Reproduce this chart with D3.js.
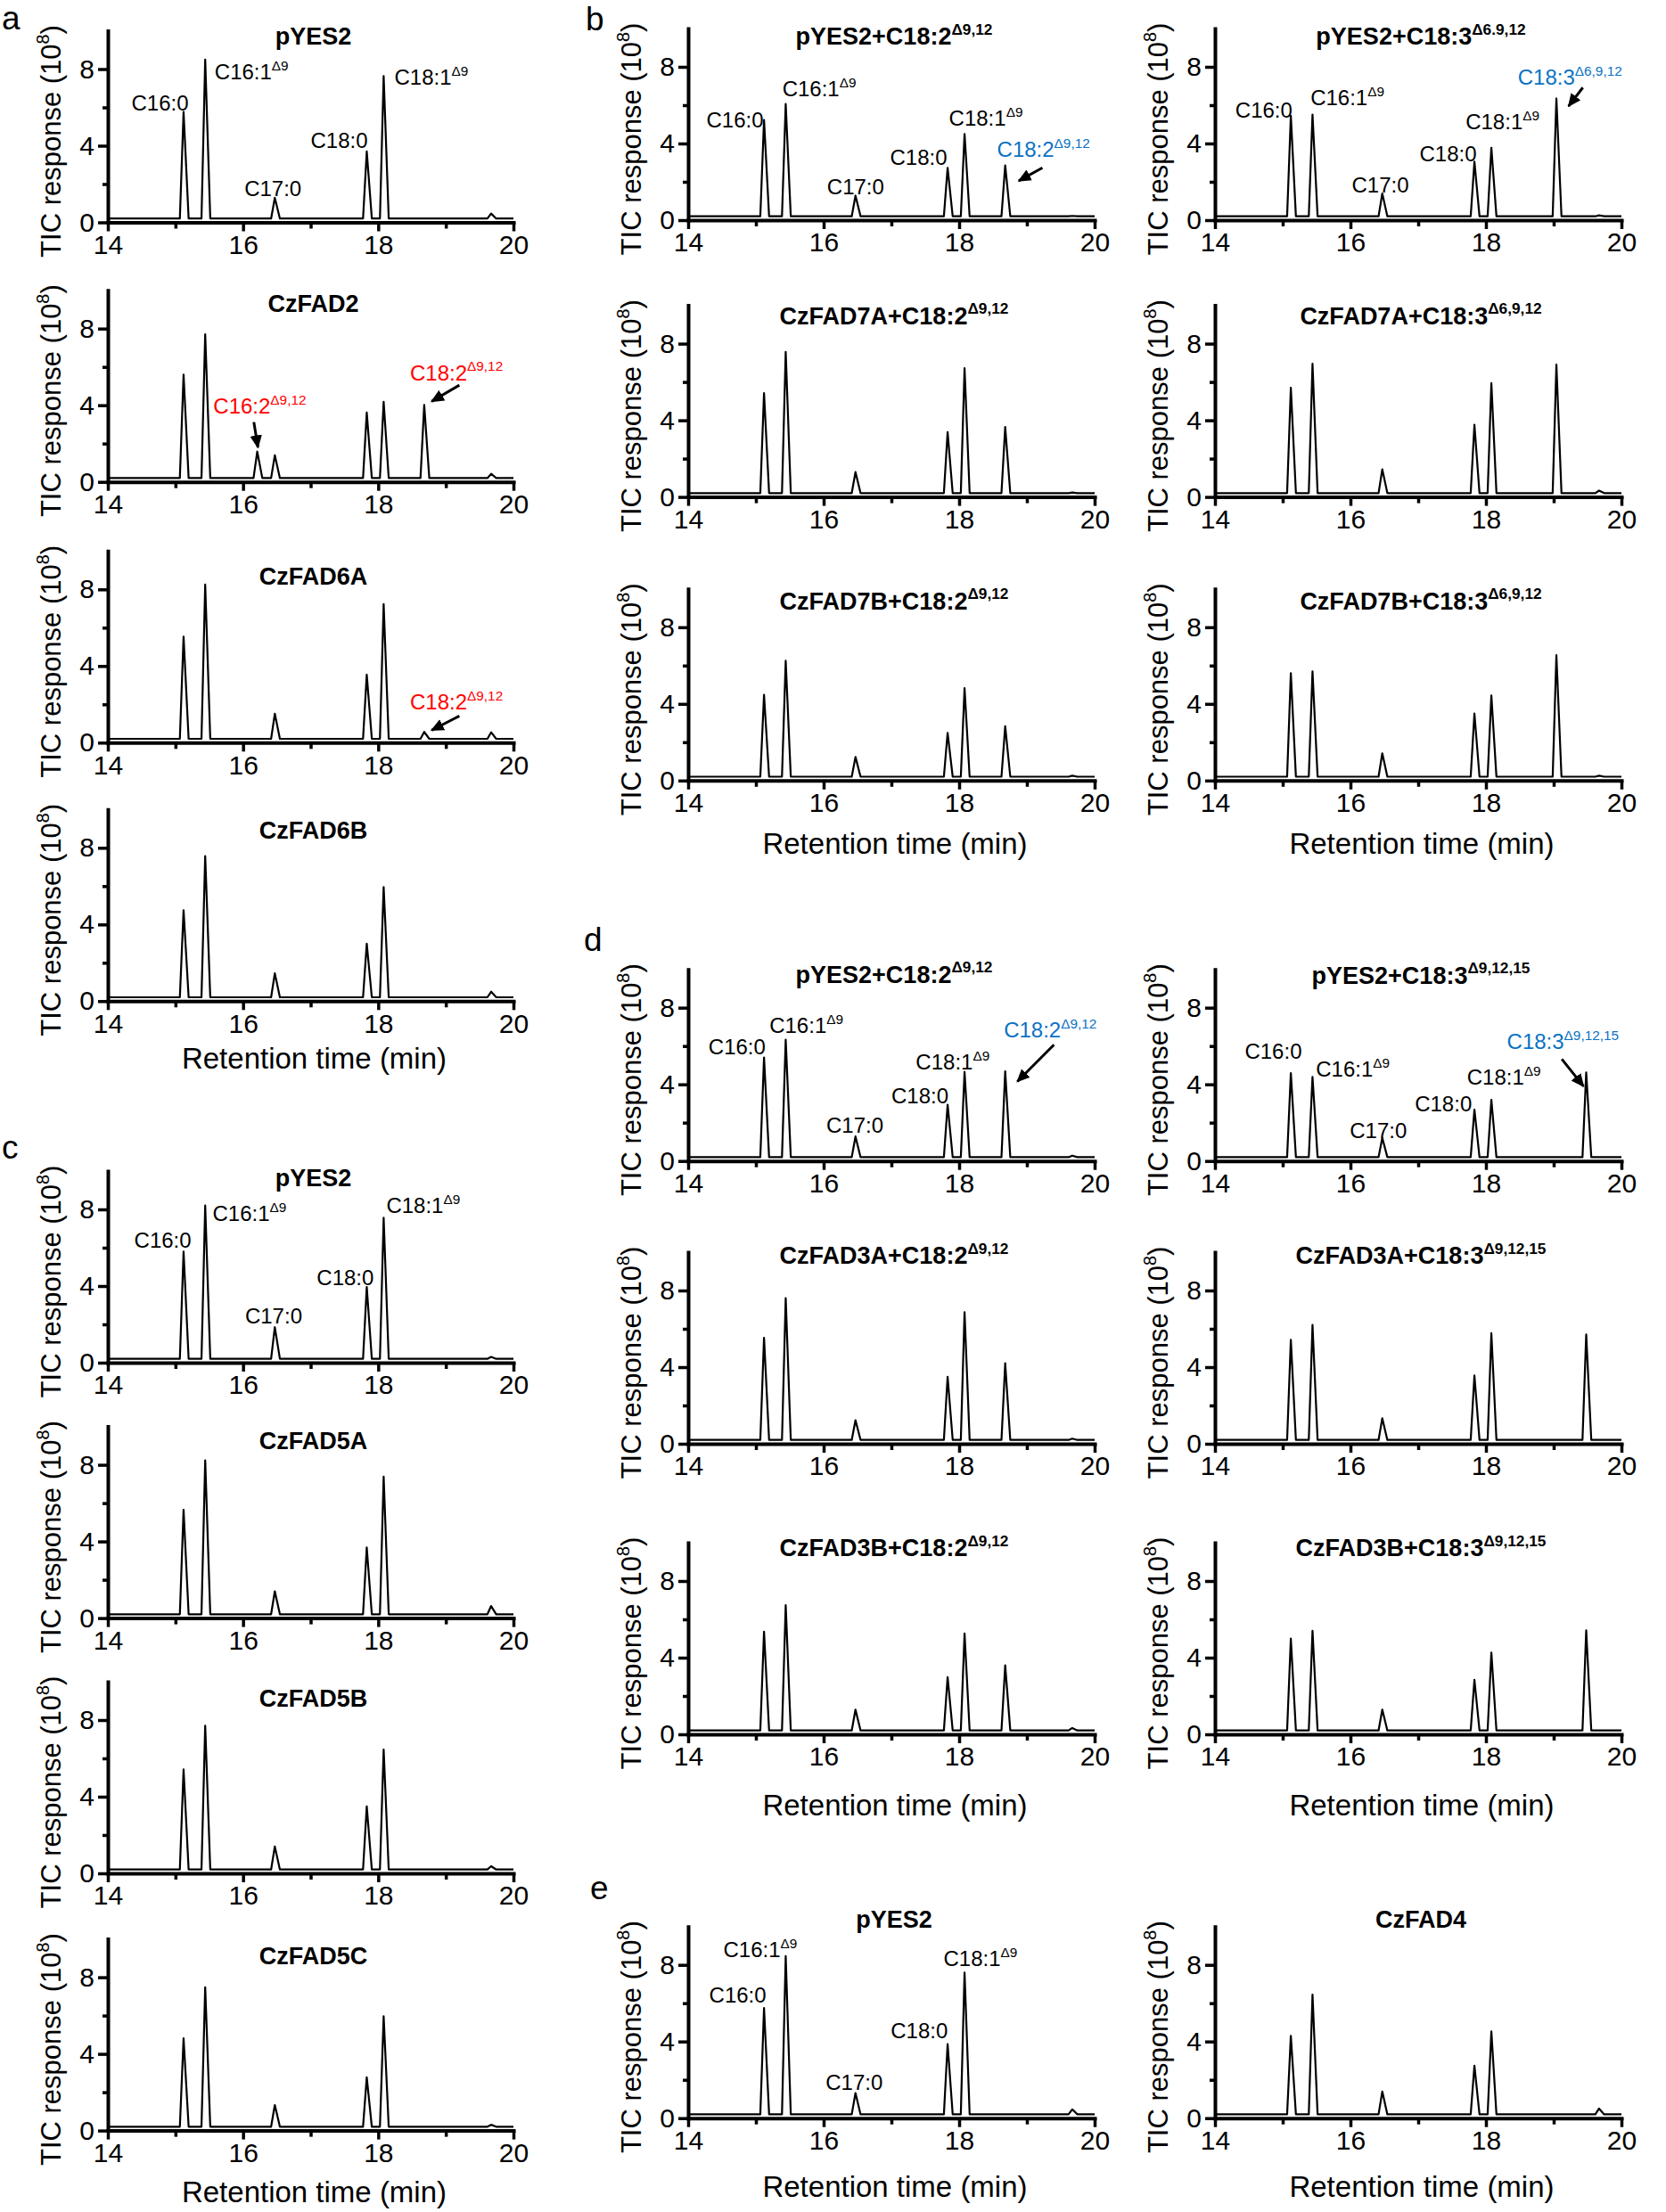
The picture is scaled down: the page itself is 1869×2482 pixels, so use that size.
<!DOCTYPE html>
<html>
<head>
<meta charset="utf-8">
<script src="https://cdn.jsdelivr.net/npm/d3@7"></script>
<style>
  body { margin: 0; background: #fff; }
</style>
</head>
<body>
<script>
// Axis ticks (retention time in min, TIC response in 10^8)
var xTicks = [14, 16, 18, 20];
var xMinorTicks = [15, 17, 19];
var yTicks = [0, 4, 8];
var yMinorTicks = [2, 6];

// Peaks: [retention time, apex height]
var peaksA1 = [[15.12, 5.76], [15.44, 8.5], [16.47, 1.28], [17.83, 3.7], [18.08, 7.64], [19.67, 0.46]];
var peaksA2 = [[15.12, 5.6], [15.44, 7.7], [16.21, 1.58], [16.47, 1.39], [17.83, 3.62], [18.08, 4.18], [18.68, 4.02], [19.67, 0.42]];
var peaksA3 = [[15.12, 5.53], [15.44, 8.25], [16.47, 1.51], [17.83, 3.55], [18.08, 7.23], [18.68, 0.56], [19.67, 0.54]];
var peaksA4 = [[15.12, 4.74], [15.44, 7.57], [16.47, 1.45], [17.83, 3.0], [18.08, 5.95], [19.67, 0.49]];
var peaksB1 = [[15.12, 5.23], [15.44, 6.06], [16.47, 1.28], [17.83, 2.73], [18.08, 4.5], [18.68, 2.86], [19.67, 0.22]];
var peaksB2 = [[15.12, 5.42], [15.44, 7.57], [16.47, 1.3], [17.83, 3.38], [18.08, 6.72], [18.68, 3.65], [19.67, 0.23]];
var peaksB3 = [[15.12, 4.47], [15.44, 6.25], [16.47, 1.23], [17.83, 2.49], [18.08, 4.82], [18.68, 2.84], [19.67, 0.25]];
var peaksB4 = [[15.12, 5.45], [15.44, 5.51], [16.47, 1.39], [17.83, 3.05], [18.08, 3.78], [19.04, 6.35], [19.67, 0.25]];
var peaksB5 = [[15.12, 5.7], [15.44, 6.95], [16.47, 1.44], [17.83, 3.77], [18.08, 5.94], [19.04, 6.91], [19.67, 0.33]];
var peaksB6 = [[15.12, 5.6], [15.44, 5.7], [16.47, 1.42], [17.83, 3.5], [18.08, 4.44], [19.04, 6.54], [19.67, 0.25]];
var peaksC1 = [[15.12, 5.8], [15.44, 8.2], [16.47, 1.85], [17.83, 3.95], [18.08, 7.56], [19.67, 0.3]];
var peaksC2 = [[15.12, 5.65], [15.44, 8.23], [16.47, 1.4], [17.83, 3.69], [18.08, 7.38], [19.67, 0.63]];
var peaksC3 = [[15.12, 5.42], [15.44, 7.71], [16.47, 1.4], [17.83, 3.5], [18.08, 6.46], [19.67, 0.37]];
var peaksC4 = [[15.12, 4.81], [15.44, 7.48], [16.47, 1.33], [17.83, 2.78], [18.08, 5.96], [19.67, 0.3]];
var peaksD1 = [[15.12, 5.4], [15.44, 6.33], [16.47, 1.28], [17.83, 2.93], [18.08, 4.65], [18.68, 4.68], [19.67, 0.28]];
var peaksD2 = [[15.12, 5.53], [15.44, 7.6], [16.47, 1.23], [17.83, 3.5], [18.08, 6.87], [18.68, 4.2], [19.67, 0.27]];
var peaksD3 = [[15.12, 5.36], [15.44, 6.74], [16.47, 1.29], [17.83, 2.98], [18.08, 5.26], [18.68, 3.6], [19.67, 0.33]];
var peaksD4 = [[15.12, 4.59], [15.44, 4.39], [16.47, 1.21], [17.83, 2.68], [18.08, 3.19], [19.48, 4.62]];
var peaksD5 = [[15.12, 5.43], [15.44, 6.2], [16.47, 1.33], [17.83, 3.57], [18.08, 5.77], [19.48, 5.7]];
var peaksD6 = [[15.12, 5.0], [15.44, 5.4], [16.47, 1.29], [17.83, 2.84], [18.08, 4.26], [19.48, 5.42]];
var peaksE1 = [[15.12, 5.75], [15.44, 8.46], [16.47, 1.31], [17.83, 3.86], [18.08, 7.6], [19.67, 0.46]];
var peaksE2 = [[15.12, 4.3], [15.44, 6.45], [16.47, 1.39], [17.83, 2.74], [18.08, 4.53], [19.67, 0.5]];

// Peak annotations: [text, superscript, time, value, colour]
var RED = "#ff0000", BLUE = "#0a72c4";
var labelsStd1 = [["C16:0", "", 14.35, 5.84], ["C16:1", "Δ9", 15.58, 7.46], ["C17:0", "", 16.02, 1.37], ["C18:0", "", 17.0, 3.88], ["C18:1", "Δ9", 18.24, 7.18]];
var labelsA2 = [["C16:2", "Δ9,12", 15.56, 3.58, RED], ["C18:2", "Δ9,12", 18.47, 5.31, RED]];
var labelsA3 = [["C18:2", "Δ9,12", 18.47, 1.73, RED]];
var labelsB1 = [["C16:0", "", 14.27, 4.84], ["C16:1", "Δ9", 15.39, 6.48], ["C17:0", "", 16.05, 1.33], ["C18:0", "", 16.98, 2.89], ["C18:1", "Δ9", 17.85, 4.92], ["C18:2", "Δ9,12", 18.56, 3.28, BLUE]];
var labelsB4 = [["C16:0", "", 14.3, 5.37], ["C16:1", "Δ9", 15.41, 5.99], ["C17:0", "", 16.02, 1.46], ["C18:0", "", 17.02, 3.08], ["C18:1", "Δ9", 17.7, 4.75], ["C18:3", "Δ6,9,12", 18.47, 7.07, BLUE]];
var labelsC1 = [["C16:0", "", 14.39, 6.01], ["C16:1", "Δ9", 15.55, 7.38], ["C17:0", "", 16.03, 2.03], ["C18:0", "", 17.09, 4.06], ["C18:1", "Δ9", 18.12, 7.82]];
var labelsD1 = [["C16:0", "", 14.3, 5.56], ["C16:1", "Δ9", 15.2, 6.69], ["C17:0", "", 16.04, 1.48], ["C18:0", "", 17.0, 3.03], ["C18:1", "Δ9", 17.36, 4.76], ["C18:2", "Δ9,12", 18.66, 6.46, BLUE]];
var labelsD4 = [["C16:0", "", 14.44, 5.32], ["C16:1", "Δ9", 15.49, 4.39], ["C17:0", "", 15.99, 1.18], ["C18:0", "", 16.95, 2.57], ["C18:1", "Δ9", 17.72, 3.97], ["C18:3", "Δ9,12,15", 18.31, 5.86, BLUE]];
var labelsE1 = [["C16:0", "", 14.31, 6.02], ["C16:1", "Δ9", 14.52, 8.42], ["C17:0", "", 16.03, 1.47], ["C18:0", "", 16.99, 4.17], ["C18:1", "Δ9", 17.77, 7.95]];

// Arrows: [from time, from value, to time, to value]
var arrowsA2 = [[16.16, 3.12, 16.22, 1.8], [19.2, 5.05, 18.79, 4.2]];
var arrowsA3 = [[19.2, 1.39, 18.79, 0.65]];
var arrowsB1 = [[19.23, 2.73, 18.88, 2.05]];
var arrowsB4 = [[19.43, 6.92, 19.22, 5.95]];
var arrowsD1 = [[19.4, 6.07, 18.86, 4.15]];
var arrowsD4 = [[19.12, 5.32, 19.44, 3.9]];

// Panel table built from the arrays above
var panels = [
    {key: "a1", title: "pYES2", sup: "", peaks: peaksA1, labels: labelsStd1, arrows: []},
    {key: "a2", title: "CzFAD2", sup: "", peaks: peaksA2, labels: labelsA2, arrows: arrowsA2},
    {key: "a3", title: "CzFAD6A", sup: "", peaks: peaksA3, labels: labelsA3, arrows: arrowsA3},
    {key: "a4", title: "CzFAD6B", sup: "", peaks: peaksA4, labels: [], arrows: []},
    {key: "b1", title: "pYES2+C18:2", sup: "Δ9,12", peaks: peaksB1, labels: labelsB1, arrows: arrowsB1},
    {key: "b2", title: "CzFAD7A+C18:2", sup: "Δ9,12", peaks: peaksB2, labels: [], arrows: []},
    {key: "b3", title: "CzFAD7B+C18:2", sup: "Δ9,12", peaks: peaksB3, labels: [], arrows: []},
    {key: "b4", title: "pYES2+C18:3", sup: "Δ6.9,12", peaks: peaksB4, labels: labelsB4, arrows: arrowsB4},
    {key: "b5", title: "CzFAD7A+C18:3", sup: "Δ6,9,12", peaks: peaksB5, labels: [], arrows: []},
    {key: "b6", title: "CzFAD7B+C18:3", sup: "Δ6,9,12", peaks: peaksB6, labels: [], arrows: []},
    {key: "c1", title: "pYES2", sup: "", peaks: peaksC1, labels: labelsC1, arrows: []},
    {key: "c2", title: "CzFAD5A", sup: "", peaks: peaksC2, labels: [], arrows: []},
    {key: "c3", title: "CzFAD5B", sup: "", peaks: peaksC3, labels: [], arrows: []},
    {key: "c4", title: "CzFAD5C", sup: "", peaks: peaksC4, labels: [], arrows: []},
    {key: "d1", title: "pYES2+C18:2", sup: "Δ9,12", peaks: peaksD1, labels: labelsD1, arrows: arrowsD1},
    {key: "d2", title: "CzFAD3A+C18:2", sup: "Δ9,12", peaks: peaksD2, labels: [], arrows: []},
    {key: "d3", title: "CzFAD3B+C18:2", sup: "Δ9,12", peaks: peaksD3, labels: [], arrows: []},
    {key: "d4", title: "pYES2+C18:3", sup: "Δ9,12,15", peaks: peaksD4, labels: labelsD4, arrows: arrowsD4},
    {key: "d5", title: "CzFAD3A+C18:3", sup: "Δ9,12,15", peaks: peaksD5, labels: [], arrows: []},
    {key: "d6", title: "CzFAD3B+C18:3", sup: "Δ9,12,15", peaks: peaksD6, labels: [], arrows: []},
    {key: "e1", title: "pYES2", sup: "", peaks: peaksE1, labels: labelsE1, arrows: []},
    {key: "e2", title: "CzFAD4", sup: "", peaks: peaksE2, labels: [], arrows: []}
];

// Layout: column, y pixel of the zero line, title offset, x-axis title offset
var columns = [[121, 576], [772, 1228], [1363, 1819]];
var layout = {
    a1: {col: 0, y0: 249.5, titleDy: -200},
    a2: {col: 0, y0: 540.7, titleDy: -191},
    a3: {col: 0, y0: 833.3, titleDy: -177},
    a4: {col: 0, y0: 1123.3, titleDy: -182, xTitleDy: 76},
    b1: {col: 1, y0: 247, titleDy: -197},
    b2: {col: 1, y0: 557.6, titleDy: -194},
    b3: {col: 1, y0: 875.8, titleDy: -192, xTitleDy: 82},
    b4: {col: 2, y0: 247, titleDy: -197},
    b5: {col: 2, y0: 557.6, titleDy: -194},
    b6: {col: 2, y0: 875.8, titleDy: -192, xTitleDy: 82},
    c1: {col: 0, y0: 1529, titleDy: -198},
    c2: {col: 0, y0: 1815.6, titleDy: -190},
    c3: {col: 0, y0: 2102, titleDy: -187},
    c4: {col: 0, y0: 2390.6, titleDy: -187, xTitleDy: 80},
    d1: {col: 1, y0: 1302.7, titleDy: -200},
    d2: {col: 1, y0: 1620, titleDy: -202},
    d3: {col: 1, y0: 1946, titleDy: -200, xTitleDy: 91},
    d4: {col: 2, y0: 1302.7, titleDy: -199},
    d5: {col: 2, y0: 1620, titleDy: -202},
    d6: {col: 2, y0: 1946, titleDy: -200, xTitleDy: 91},
    e1: {col: 1, y0: 2376.7, titleDy: -214, xTitleDy: 88},
    e2: {col: 2, y0: 2376.7, titleDy: -214, xTitleDy: 88}
};
var panelLetters = [["a", 2, 33], ["b", 657, 34], ["c", 2, 1300], ["d", 655, 1067], ["e", 662, 2131]];

var FONT = "'Liberation Sans', Arial, Helvetica, sans-serif";
var plotHeight = 215;
var traceBase = 0.2;

var svg = d3.select("body").append("svg")
    .attr("width", 1869)
    .attr("height", 2482)
    .style("font-family", FONT);

svg.append("rect").attr("width", 1869).attr("height", 2482).attr("fill", "#fff");

svg.append("defs").append("marker")
    .attr("id", "arrowhead")
    .attr("viewBox", "0 0 10 10")
    .attr("refX", 9).attr("refY", 5)
    .attr("markerWidth", 15).attr("markerHeight", 15)
    .attr("markerUnits", "userSpaceOnUse")
    .attr("orient", "auto")
    .append("path").attr("d", "M0,0.5 L10,5 L0,9.5 z").attr("fill", "#000");

// text with an optional superscript at the end
function addSup(textSel, main, sup, size) {
    textSel.append("tspan").text(main);
    if (sup) {
        textSel.append("tspan")
            .attr("font-size", size * 0.64)
            .attr("dy", -size * 0.42)
            .text(sup);
    }
}

function drawPanel(p) {
    var L = layout[p.key];
    var xr = columns[L.col];
    var x = d3.scaleLinear().domain([14, 20]).range(xr);
    var y = d3.scaleLinear().domain([0, 10]).range([L.y0, L.y0 - plotHeight]);
    var g = svg.append("g");

    // chromatogram trace
    var pts = [[14, traceBase]];
    p.peaks.forEach(function (pk) {
        pts.push([pk[0] - 0.055, traceBase], [pk[0], pk[1]], [pk[0] + 0.075, traceBase]);
    });
    pts.push([20, traceBase]);
    g.append("path")
        .datum(pts)
        .attr("fill", "none")
        .attr("stroke", "#000")
        .attr("stroke-width", 2.2)
        .attr("stroke-linejoin", "round")
        .attr("d", d3.line().x(function (d) { return x(d[0]); }).y(function (d) { return y(d[1]); }));

    // axes
    var xAxisG = g.append("g").attr("transform", "translate(0," + L.y0 + ")");
    xAxisG.call(d3.axisBottom(x).tickValues(xTicks).tickSize(10).tickSizeOuter(0).tickPadding(4).tickFormat(d3.format("d")));
    xAxisG.append("g").call(d3.axisBottom(x).tickValues(xMinorTicks).tickSize(7).tickFormat(function () { return ""; }))
        .select(".domain").remove();

    var yAxisG = g.append("g").attr("transform", "translate(" + xr[0] + ",0)");
    yAxisG.call(d3.axisLeft(y).tickValues(yTicks).tickSize(11).tickSizeOuter(0).tickPadding(4));
    yAxisG.append("g").call(d3.axisLeft(y).tickValues(yMinorTicks).tickSize(6).tickFormat(function () { return ""; }))
        .select(".domain").remove();

    g.selectAll(".domain").attr("stroke-width", 4).attr("stroke-linecap", "square");
    g.selectAll(".tick line").attr("stroke-width", 3.5);
    g.selectAll(".tick text").attr("font-size", 30).attr("font-family", FONT).attr("fill", "#000");

    // y axis title
    var yt = g.append("text")
        .attr("transform", "translate(" + (xr[0] - 64) + "," + (L.y0 - 91) + ") rotate(-90)")
        .attr("text-anchor", "middle")
        .attr("dy", "0.35em")
        .attr("font-size", 31);
    addSup(yt, "TIC response (10", "8", 31);
    yt.append("tspan").attr("dy", 31 * 0.42).text(")");

    // panel title
    var tt = g.append("text")
        .attr("x", (xr[0] + xr[1]) / 2 + 3)
        .attr("y", L.y0 + L.titleDy)
        .attr("text-anchor", "middle")
        .attr("font-weight", "bold")
        .attr("font-size", 27);
    addSup(tt, p.title, p.sup, 27);

    // x axis title
    if (L.xTitleDy) {
        g.append("text")
            .attr("x", (xr[0] + xr[1]) / 2 + 4)
            .attr("y", L.y0 + L.xTitleDy)
            .attr("text-anchor", "middle")
            .attr("font-size", 33)
            .text("Retention time (min)");
    }

    // peak labels
    p.labels.forEach(function (lb) {
        var t = g.append("text")
            .attr("x", x(lb[2]))
            .attr("y", y(lb[3]))
            .attr("font-size", 24)
            .attr("fill", lb[4] || "#000");
        addSup(t, lb[0], lb[1], 24);
    });

    // arrows
    p.arrows.forEach(function (a) {
        g.append("line")
            .attr("x1", x(a[0])).attr("y1", y(a[1]))
            .attr("x2", x(a[2])).attr("y2", y(a[3]))
            .attr("stroke", "#000")
            .attr("stroke-width", 3)
            .attr("marker-end", "url(#arrowhead)");
    });
}

panels.forEach(drawPanel);

svg.selectAll(".letter")
    .data(panelLetters)
    .enter().append("text")
    .attr("class", "letter")
    .attr("x", function (d) { return d[1]; })
    .attr("y", function (d) { return d[2]; })
    .attr("font-size", 37)
    .text(function (d) { return d[0]; });
</script>
</body>
</html>
